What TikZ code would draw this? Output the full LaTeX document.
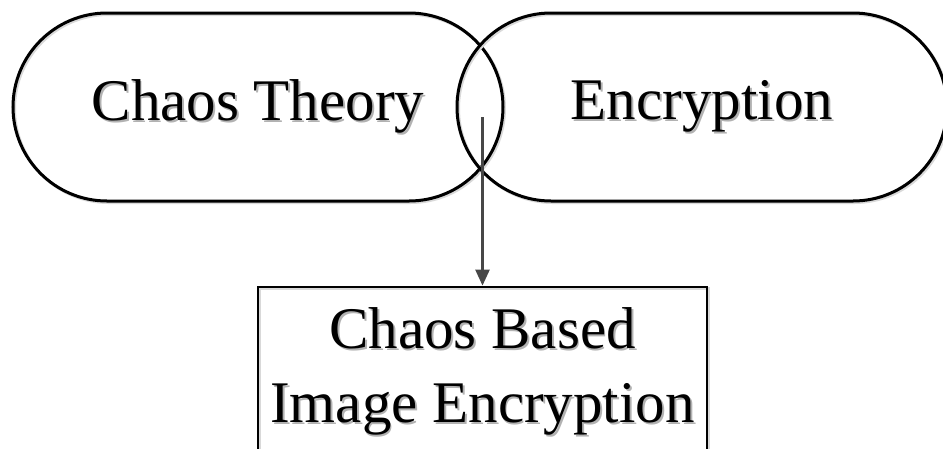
\documentclass[tikz,border=0pt]{standalone}
\usepackage{fontspec}
\setmainfont{Liberation Serif}
\usetikzlibrary{shapes.misc,arrows.meta}
\newcommand{\shd}[1]{\makebox[0pt][l]{\kern1.8pt\raisebox{-1.8pt}{\textcolor{black!30}{#1}}}#1}
\tikzset{
  pill/.style={rounded rectangle, draw=black, line width=3pt,
    minimum width=490pt, minimum height=188pt, inner sep=0pt,
    preaction={draw=black!15, line width=3pt, transform canvas={shift={(1.5pt,-1.5pt)}}},
    font=\fontsize{59}{74}\selectfont},
  boxnode/.style={rectangle, draw=black, line width=2.8pt,
    minimum width=449pt, minimum height=170pt, inner sep=0pt, align=center,
    preaction={draw=black!15, line width=2.8pt, transform canvas={shift={(1.5pt,-1.5pt)}}},
    font=\fontsize{59}{74}\selectfont},
  conn/.style={draw=black!72, line width=2.5pt, -{Triangle[length=16pt,width=14pt]}}
}
\begin{document}
\begin{tikzpicture}[x=1pt,y=-1pt]
\useasboundingbox (0,0) rectangle (943,448);
\clip (0,0) rectangle (943,448);
\node[pill] (chaos) at (258,107) {\raisebox{-5pt}{\shd{Chaos Theory}}};
\node[pill] (enc) at (702,107) {\raisebox{-5pt}{\shd{Encryption}}};
\node[boxnode] (cbie) at (482.5,372) {\shd{Chaos Based}\\\shd{Image Encryption}};
\coordinate (start) at (482.5,117);
\draw[conn] (start) -- (cbie.north);
\end{tikzpicture}
\end{document}
